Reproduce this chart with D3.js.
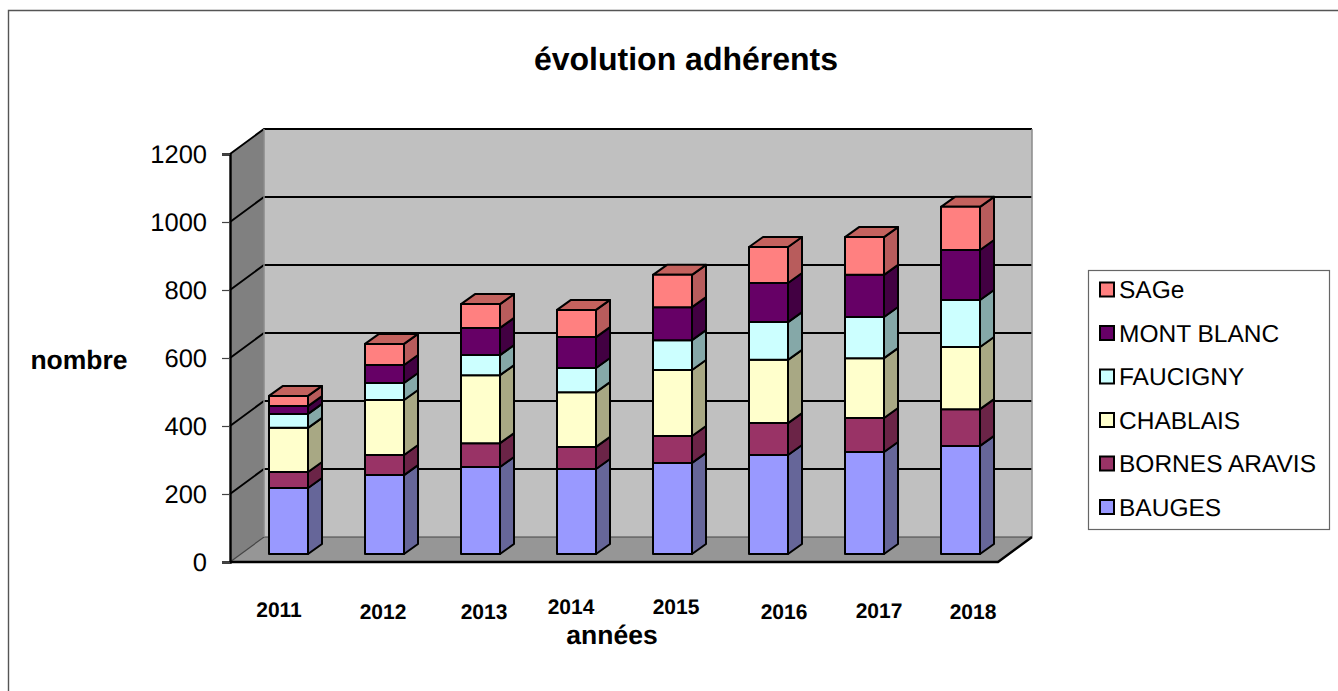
<!DOCTYPE html>
<html>
<head>
<meta charset="utf-8">
<title>évolution adhérents</title>
<script src="https://cdn.jsdelivr.net/npm/d3@7"></script>
<style>
    html, body { margin: 0; padding: 0; background: #fff; }
    svg { display: block; }
    text { font-family: "Liberation Sans", Arial, sans-serif; fill: #000; text-rendering: geometricPrecision; }
</style>
</head>
<body>
<script>

var years = ["2011", "2012", "2013", "2014", "2015", "2016", "2017", "2018"];
var yTicks = [0, 200, 400, 600, 800, 1000, 1200];

var seriesNames = ["BAUGES", "BORNES ARAVIS", "CHABLAIS", "FAUCIGNY", "MONT BLANC", "SAGe"];

var bauges      = [194, 232, 256, 250, 268, 291, 300, 318];
var bornesAravis = [47, 59, 70, 65, 79, 94, 100, 108];
var chablais    = [130, 162, 200, 161, 194, 186, 176, 183];
var faucigny    = [41, 50, 59, 71, 88, 111, 121, 138];
var montBlanc   = [23, 53, 80, 91, 97, 115, 124, 147];
var sage        = [30, 62, 70, 80, 95, 106, 111, 127];

var seriesValues = [bauges, bornesAravis, chablais, faucigny, montBlanc, sage];

// front, side, top
var seriesColors = [
    ["#9999ff", "#666699", "#7a7ac4"],
    ["#993366", "#6b2447", "#7a2952"],
    ["#ffffcc", "#a8a884", "#c8c8a0"],
    ["#ccffff", "#85a8a8", "#a3cccc"],
    ["#660066", "#420042", "#520052"],
    ["#ff8080", "#b85c5c", "#c4625e"]
];

// the year labels do not sit on one line in the original
var labelDx = [1, 9, 14, 5, 14, 26, 25, 23];
var labelDy = [-2, 0, 0, -5, -5, 0, -1, 0];

var width = 1338, height = 691;

var svg = d3.select("body").append("svg")
    .attr("width", width)
    .attr("height", height);

// outer frame, open on the right and at the bottom
svg.append("path")
    .attr("d", "M8.5,691V10.5H1338")
    .attr("fill", "none")
    .attr("stroke", "#555")
    .attr("stroke-width", 1.4);

var left = 230, right = 998, y0 = 562, y1200 = 154;
var depthX = 34, depthY = 25;      // wall depth
var barDX = 14, barDY = 10;        // bar depth
var barShiftX = 10.5, barShiftY = 8;

var y = d3.scaleLinear().domain([0, 1200]).range([y0, y1200]);
var x = d3.scaleBand().domain(years).range([left, right]);
var barWidth = 39;

var poly = function (pts) { return pts.map(function (p) { return p.join(","); }).join(" "); };

var walls = svg.append("g");

walls.append("polygon")   // back wall
    .attr("points", poly([[left + depthX, y1200 - depthY], [right + depthX, y1200 - depthY], [right + depthX, y0 - depthY], [left + depthX, y0 - depthY]]))
    .attr("fill", "#c0c0c0");

walls.append("polygon")   // side wall
    .attr("points", poly([[left, y1200], [left + depthX, y1200 - depthY], [left + depthX, y0 - depthY], [left, y0]]))
    .attr("fill", "#808080");

walls.append("polygon")   // floor
    .attr("points", poly([[left, y0], [left + depthX, y0 - depthY], [right + depthX, y0 - depthY], [right, y0]]))
    .attr("fill", "#969696");

// gridlines round the two walls
walls.selectAll("path.grid")
    .data(yTicks)
    .enter()
    .append("path")
    .attr("class", "grid")
    .attr("fill", "none")
    .attr("stroke", function (d) { return d === 0 ? "#444" : "#000"; })
    .attr("stroke-width", function (d) { return d === 0 ? 1.2 : 2; })
    .attr("d", function (d) {
        return "M" + left + "," + y(d) + "L" + (left + depthX) + "," + (y(d) - depthY) + "H" + (right + depthX);
    });

walls.append("path")
    .attr("d", "M" + (left + depthX) + "," + (y1200 - depthY) + "V" + (y0 - depthY) + "M" + (right + depthX) + "," + (y1200 - depthY) + "V" + (y0 - depthY))
    .attr("fill", "none")
    .attr("stroke", "#8a8a8a")
    .attr("stroke-width", 1.5);

walls.append("path")
    .attr("d", "M" + left + "," + y0 + "H" + right + "L" + (right + depthX) + "," + (y0 - depthY))
    .attr("fill", "none")
    .attr("stroke", "#000")
    .attr("stroke-width", 2.4);

// bars
var stack = [];
years.forEach(function (year, i) {
    var base = 0;
    seriesValues.forEach(function (values, s) {
        stack.push({ year: year, series: s, from: base, to: base + values[i], last: s === seriesValues.length - 1 });
        base += values[i];
    });
});

var barX = function (d) { return x(d.year) + (x.bandwidth() - barWidth) / 2 + barShiftX; };
var barY = function (v) { return y(v) - barShiftY; };

var segments = svg.append("g")
    .selectAll("g")
    .data(stack)
    .enter()
    .append("g")
    .attr("stroke", "#000")
    .attr("stroke-width", 2)
    .attr("stroke-linejoin", "round");

segments.append("polygon")
    .attr("fill", function (d) { return seriesColors[d.series][1]; })
    .attr("points", function (d) {
        var r = barX(d) + barWidth;
        return poly([[r, barY(d.from)], [r + barDX, barY(d.from) - barDY], [r + barDX, barY(d.to) - barDY], [r, barY(d.to)]]);
    });

segments.filter(function (d) { return d.last; })
    .append("polygon")
    .attr("fill", function (d) { return seriesColors[d.series][2]; })
    .attr("points", function (d) {
        var l = barX(d), r = l + barWidth, t = barY(d.to);
        return poly([[l, t], [l + barDX, t - barDY], [r + barDX, t - barDY], [r, t]]);
    });

segments.append("rect")
    .attr("fill", function (d) { return seriesColors[d.series][0]; })
    .attr("x", barX)
    .attr("y", function (d) { return barY(d.to); })
    .attr("width", barWidth)
    .attr("height", function (d) { return barY(d.from) - barY(d.to); });

// value axis
var yAxis = svg.append("g")
    .attr("transform", "translate(" + left + ",0)")
    .call(d3.axisLeft(y).tickValues(yTicks).tickFormat(d3.format("d")).tickSize(8).tickPadding(15));

yAxis.selectAll("text").style("font-size", "25.5px").attr("font-family", null);
yAxis.selectAll(".tick line").attr("stroke", "#444").attr("stroke-width", 1.2);
yAxis.select(".domain").attr("stroke", "#000").attr("stroke-width", 2.4);

// year labels
var xAxis = svg.append("g")
    .attr("transform", "translate(" + left + "," + y0 + ")")
    .call(d3.axisBottom(d3.scaleBand().domain(years).range([0, right - left])).tickSize(0).tickPadding(38));

xAxis.select(".domain").remove();
xAxis.selectAll("text")
    .style("font-size", "21px")
    .style("font-weight", "bold")
    .attr("font-family", null)
    .attr("dx", function (d, i) { return labelDx[i]; })
    .attr("dy", function (d, i) { return 19 + labelDy[i]; });

// titles
svg.append("text")
    .attr("x", 686).attr("y", 70)
    .attr("text-anchor", "middle")
    .style("font-size", "32px")
    .style("font-weight", "bold")
    .text("évolution adhérents");

svg.append("text")
    .attr("x", 79).attr("y", 369)
    .attr("text-anchor", "middle")
    .style("font-size", "26.5px")
    .style("font-weight", "bold")
    .text("nombre");

svg.append("text")
    .attr("x", 612).attr("y", 644)
    .attr("text-anchor", "middle")
    .style("font-size", "26.5px")
    .style("font-weight", "bold")
    .text("années");

// legend, reversed like the stack
var legendBox = svg.append("g").attr("transform", "translate(1088,270)");

legendBox.append("rect")
    .attr("x", 0.5).attr("y", 0.5)
    .attr("width", 241).attr("height", 259)
    .attr("fill", "#fff")
    .attr("stroke", "#666")
    .attr("stroke-width", 1.2);

var legendRows = legendBox.selectAll("g.row")
    .data(seriesNames.map(function (name, i) { return { name: name, series: i }; }).reverse())
    .enter()
    .append("g")
    .attr("class", "row")
    .attr("transform", function (d, i) { return "translate(0," + (19.5 + i * 43.5) + ")"; });

legendRows.append("rect")
    .attr("x", 12).attr("y", -7)
    .attr("width", 14).attr("height", 14)
    .attr("fill", function (d) { return seriesColors[d.series][0]; })
    .attr("stroke", "#000")
    .attr("stroke-width", 2);

legendRows.append("text")
    .attr("x", 31).attr("y", 8.5)
    .style("font-size", "24.5px")
    .text(function (d) { return d.name; });

</script>
</body>
</html>
